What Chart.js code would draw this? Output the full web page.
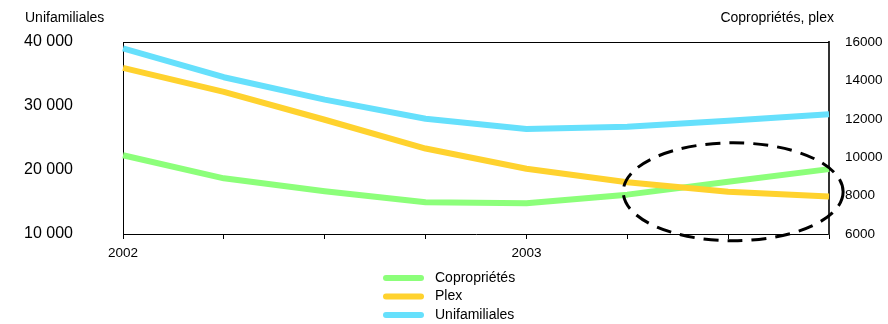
<!DOCTYPE html>
<html>
<head>
<meta charset="utf-8">
<script src="https://cdn.jsdelivr.net/npm/chart.js@4/dist/chart.umd.min.js"></script>
<style>
  html, body { margin: 0; padding: 0; background: #fff; }
  #wrap { width: 888px; height: 324px; position: relative; }
</style>
</head>
<body>
<div id="wrap"><canvas id="c" width="888" height="324"></canvas></div>
<script>
// Quarterly periods, 2002 T1 to 2003 T4
const quarters = ['2002 T1', '2002 T2', '2002 T3', '2002 T4', '2003 T1', '2003 T2', '2003 T3', '2003 T4'];
const tickLabels = ['2002', '', '', '', '2003', '', '', ''];

// Single-family homes (left axis)
const unifamiliales = [39000, 34500, 31000, 28000, 26400, 26750, 27700, 28700];
// Plexes (right axis)
const plex = [14650, 13400, 11950, 10450, 9400, 8700, 8200, 7950];
// Condominiums (right axis)
const coproprietes = [10100, 8900, 8230, 7650, 7600, 8050, 8720, 9380];

const leftTicks = { min: 10000, max: 40000, step: 10000 };
const rightTicks = { min: 6000, max: 16000, step: 2000 };

const FONT = "'Liberation Sans', Arial, sans-serif";
const fmtSpace = v => String(v).replace(/\B(?=(\d{3})+(?!\d))/g, ' ');

// Titles above the two value axes, frame top line, dashed highlight ellipse, legend
const decorations = {
  id: 'decorations',
  afterDraw(chart) {
    const { ctx, chartArea: a, scales } = chart;
    ctx.save();
    // top frame line
    ctx.strokeStyle = '#000';
    ctx.lineWidth = 1;
    ctx.beginPath();
    ctx.moveTo(a.left, a.top + 0.5);
    ctx.lineTo(a.right, a.top + 0.5);
    ctx.stroke();

    // axis titles
    ctx.fillStyle = '#000';
    ctx.font = '14px ' + FONT;
    ctx.textBaseline = 'middle';
    ctx.textAlign = 'left';
    ctx.fillText('Unifamiliales', 25, 18);
    ctx.textAlign = 'right';
    ctx.fillText('Copropriétés, plex', 834, 18);

    // dashed ellipse around the last quarters of the right-axis series
    const x = scales.x, yR = scales.y1;
    const cx = x.getPixelForValue(6.05);
    const cy = yR.getPixelForValue(8200);
    const rx = x.getPixelForValue(7.14) - cx;
    const ry = yR.getPixelForValue(5650) - cy;
    ctx.setLineDash([15, 9]);
    ctx.lineWidth = 3;
    ctx.strokeStyle = '#000';
    ctx.beginPath();
    ctx.ellipse(cx, cy, rx, ry, 0, 0, Math.PI * 2);
    ctx.stroke();
    ctx.setLineDash([]);

    // legend (stacked, below the plot)
    const ds = chart.data.datasets;
    ctx.font = '14px ' + FONT;
    ctx.textAlign = 'left';
    ctx.textBaseline = 'middle';
    ctx.lineCap = 'round';
    ds.forEach((d, i) => {
      const ly = 278 + i * 18.5;
      ctx.strokeStyle = d.borderColor;
      ctx.lineWidth = 6;
      ctx.beginPath();
      ctx.moveTo(386, ly);
      ctx.lineTo(421, ly);
      ctx.stroke();
      ctx.fillStyle = '#000';
      ctx.fillText(d.label, 435, ly);
    });
    ctx.restore();
  }
};

// fixed box sizes for the value axes; label padding must not push the plot down
const fixVertical = w => s => { s.width = w; s.paddingTop = 0; s.paddingBottom = 0; };

new Chart(document.getElementById('c'), {
  type: 'line',
  data: {
    labels: quarters,
    datasets: [
      { label: 'Copropriétés', data: coproprietes, yAxisID: 'y1', borderColor: '#8cff7a', order: 2 },
      { label: 'Plex', data: plex, yAxisID: 'y1', borderColor: '#ffd22e', order: 1 },
      { label: 'Unifamiliales', data: unifamiliales, yAxisID: 'y', borderColor: '#66e0fc', order: 0 }
    ]
  },
  options: {
    responsive: false,
    animation: false,
    devicePixelRatio: 1,
    layout: { padding: { top: 42, left: 0, right: 0, bottom: 0 } },
    elements: {
      line: { borderWidth: 6, tension: 0, borderJoinStyle: 'round', borderCapStyle: 'butt', fill: false },
      point: { radius: 0, hoverRadius: 0 }
    },
    plugins: { legend: { display: false }, tooltip: { enabled: false } },
    scales: {
      x: {
        type: 'category',
        offset: false,
        grid: { display: true, drawOnChartArea: false, drawTicks: true, tickLength: 5, color: '#000' },
        border: { display: true, color: '#000', width: 1 },
        ticks: {
          autoSkip: false, maxRotation: 0, padding: 6,
          color: '#000', font: { family: FONT, size: 13.5 },
          callback: (v, i) => tickLabels[i]
        },
        afterFit: s => { s.height = 90; }
      },
      y: {
        position: 'left',
        min: leftTicks.min, max: leftTicks.max,
        grid: { display: false, drawTicks: false },
        border: { display: true, color: '#000', width: 1 },
        ticks: {
          stepSize: leftTicks.step, padding: 50,
          color: '#000', font: { family: FONT, size: 16 },
          callback: v => fmtSpace(v)
        },
        afterFit: fixVertical(123)
      },
      y1: {
        position: 'right',
        min: rightTicks.min, max: rightTicks.max,
        grid: { display: false, drawTicks: false },
        border: { display: true, color: '#333', width: 2 },
        ticks: {
          stepSize: rightTicks.step, padding: 16,
          color: '#000', font: { family: FONT, size: 13.5 },
          callback: v => String(v)
        },
        afterFit: fixVertical(59)
      }
    }
  },
  plugins: [decorations]
});
</script>
</body>
</html>
